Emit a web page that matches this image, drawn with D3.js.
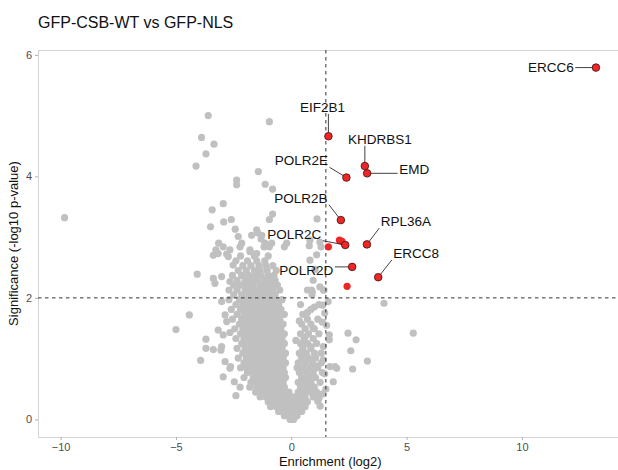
<!DOCTYPE html>
<html>
<head>
<meta charset="utf-8">
<script src="https://cdnjs.cloudflare.com/ajax/libs/d3/7.8.5/d3.min.js"></script>
<style>
    body { margin: 0; background: #fff; }
    text { font-family: "Liberation Sans", Arial, sans-serif; }
</style>
</head>
<body>
<script>

    // labelled hits
    var hitGenes = ["ERCC6", "EIF2B1", "KHDRBS1", "EMD", "POLR2E", "POLR2B", "POLR2C", "RPL36A", "POLR2D", "ERCC8"];
    var hitX = [13.21, 1.61, 3.19, 3.29, 2.39, 2.15, 2.34, 3.28, 2.64, 3.77];
    var hitY = [5.79, 4.66, 4.17, 4.05, 3.98, 3.28, 2.87, 2.88, 2.51, 2.34];

    // significant but unlabelled
    var otherHitX = [2.09, 2.20, 1.61, 2.42];
    var otherHitY = [2.95, 2.93, 2.84, 2.19];

    // scattered background proteins [log2 enrichment, -log10 p]
    var scatterPoints = [
        [-3.60,5.00],[-3.89,4.64],[-3.35,4.53],[-3.70,4.37],[-4.13,4.17],[-0.95,4.90],[-1.43,4.08],
        [-2.37,3.94],[-2.37,3.86],[-1.13,3.87],[-0.81,3.79],[-9.83,3.32],[-2.95,3.55],[-3.43,3.45],
        [-0.81,3.38],[-0.95,3.29],[1.12,3.30],[-2.60,3.29],[-2.93,3.25],[-3.50,3.17],[-2.43,3.13],
        [-1.46,3.07],[-1.72,3.03],[-2.30,3.01],[-1.31,2.97],[-1.50,3.12],[-1.28,3.03],[-3.15,2.90],
        [-2.15,2.90],[-1.14,2.90],[-0.85,2.90],[-0.20,2.90],[0.81,2.95],[1.24,2.92],[-1.18,2.84],
        [-0.95,2.84],[-0.30,2.84],[0.78,2.86],[1.29,2.84],[-2.22,2.84],[-2.95,2.84],[-3.27,2.79],
        [-2.66,2.79],[-1.79,2.79],[-1.79,2.76],[-1.50,2.73],[-3.38,2.70],[-2.80,2.72],[-2.73,2.68],
        [-3.17,2.73],[0.81,2.62],[1.10,2.71],[1.03,2.47],[0.95,2.29],[0.88,2.13],[1.24,2.18],
        [0.91,2.10],[1.39,2.13],[1.42,2.13],[-2.52,2.54],[-4.08,2.39],[-3.38,2.32],[-3.31,2.24],
        [-3.02,2.35],[-2.66,2.27],
        [-4.42,1.72],[-5.00,1.48],[-3.70,1.32],[-3.70,1.17],[-3.93,0.97],[-3.38,1.15],[-3.05,1.14],
        [-2.95,0.70],[-2.66,0.84],[-2.40,0.39],[-2.22,0.53],[-2.47,0.62],[-3.17,1.47],[-3.02,1.94],
        [-2.80,1.61],[-2.87,1.72],[-2.66,1.43],[-2.95,1.39],[-3.02,1.20],[-2.87,0.95],[-2.63,0.87],
        [1.60,1.94],[1.36,1.88],[1.53,1.55],[1.65,1.39],[1.65,1.31],[1.39,1.20],[1.39,0.98],
        [1.68,0.87],[1.90,0.87],[1.97,0.84],[1.82,0.62],[2.46,1.42],[2.81,1.31],[2.58,1.13],
        [2.66,0.83],[3.30,0.96],[4.02,1.91],[5.29,1.42],[1.45,0.75],[1.50,0.50],[1.20,0.35],
        [1.35,1.60],[1.45,1.75],[1.15,0.30],[1.35,0.42],[1.25,0.22],
        [0.45,0.60],[0.75,0.72],[1.05,0.88],[0.45,1.05],[0.85,1.20],[0.60,1.36],[0.95,1.50],
        [0.35,1.62],[0.70,1.76],[1.00,1.85],[0.60,0.45],[0.90,0.55],[0.20,1.30],[0.25,0.85]
    ];

    // the dense core, read row by row: [-log10 p, [log2 enrichment ...]]
    var coreRows = [
        [0.00, [-0.05, 0.1]],
        [0.06, [-0.3, -0.1, 0.1, 0.25]],
        [0.13, [-0.55, -0.35, -0.15, 0.05, 0.25, 0.45]],
        [0.21, [-0.9, -0.65, -0.45, -0.25, -0.05, 0.15, 0.35, 0.6]],
        [0.29, [-1.0, -0.8, -0.6, -0.4, -0.2, 0.0, 0.2, 0.45, 0.7]],
        [0.37, [-1.35, -1.1, -0.9, -0.7, -0.5, -0.3, -0.1, 0.1, 0.35, 0.6, 0.95]],
        [0.45, [-1.55, -1.3, -1.1, -0.9, -0.7, -0.5, -0.3, -0.1, 0.3, 0.55, 0.85, 1.1]],
        [0.53, [-1.8, -1.5, -1.3, -1.1, -0.9, -0.7, -0.5, -0.3, 0.4, 0.7, 1.0]],
        [0.61, [-1.75, -1.55, -1.35, -1.15, -0.95, -0.75, -0.55, -0.35, 0.3, 0.6, 0.85, 1.25]],
        [0.69, [-2.05, -1.65, -1.45, -1.25, -1.05, -0.85, -0.65, -0.45, -0.25, 0.45, 0.75, 1.05]],
        [0.77, [-1.9, -1.7, -1.5, -1.3, -1.1, -0.9, -0.7, -0.5, -0.3, 0.35, 0.65, 0.95, 1.35]],
        [0.85, [-2.2, -1.95, -1.75, -1.55, -1.35, -1.15, -0.95, -0.75, -0.55, -0.35, 0.5, 0.8, 1.15]],
        [0.93, [-2.05, -1.85, -1.65, -1.45, -1.25, -1.05, -0.85, -0.65, -0.45, -0.25, 0.3, 0.6, 0.9, 1.3]],
        [1.01, [-2.3, -1.95, -1.75, -1.55, -1.35, -1.15, -0.95, -0.75, -0.55, -0.35, 0.45, 0.75, 1.05]],
        [1.09, [-2.1, -1.85, -1.65, -1.45, -1.25, -1.05, -0.85, -0.65, -0.45, -0.25, 0.35, 0.65, 1.0, 1.3]],
        [1.17, [-2.35, -2.0, -1.8, -1.6, -1.4, -1.2, -1.0, -0.8, -0.6, -0.4, 0.5, 0.85]],
        [1.25, [-2.15, -1.9, -1.7, -1.5, -1.3, -1.1, -0.9, -0.7, -0.5, -0.3, 0.4, 0.7, 1.1]],
        [1.33, [-2.4, -2.05, -1.8, -1.6, -1.4, -1.2, -1.0, -0.8, -0.6, -0.4, 0.55, 0.95]],
        [1.41, [-2.2, -1.95, -1.75, -1.55, -1.35, -1.15, -0.95, -0.75, -0.55, -0.3, 0.4, 0.75, 1.2]],
        [1.49, [-2.45, -2.1, -1.85, -1.65, -1.45, -1.25, -1.05, -0.85, -0.65, -0.45, 0.6, 1.0]],
        [1.57, [-2.25, -2.0, -1.8, -1.6, -1.4, -1.2, -1.0, -0.8, -0.6, -0.35, 0.45, 0.85]],
        [1.65, [-2.55, -2.15, -1.9, -1.7, -1.5, -1.3, -1.1, -0.9, -0.7, -0.5, 0.7, 1.15]],
        [1.73, [-2.35, -2.05, -1.8, -1.6, -1.4, -1.2, -1.0, -0.8, -0.6, -0.3, 0.5]],
        [1.81, [-2.6, -2.2, -1.95, -1.7, -1.5, -1.3, -1.1, -0.9, -0.7, -0.45, 0.85]],
        [1.89, [-2.4, -2.1, -1.85, -1.6, -1.4, -1.2, -1.0, -0.8, -0.55, 0.4, 1.2]],
        [1.97, [-2.7, -2.25, -1.95, -1.75, -1.5, -1.3, -1.1, -0.9, -0.65, -0.4]],
        [2.05, [-2.5, -2.15, -1.85, -1.6, -1.4, -1.15, -0.9, -0.7, 0.9]],
        [2.13, [-2.7, -2.35, -2.0, -1.75, -1.5, -1.3, -1.05, -0.8, -0.5, 0.7]],
        [2.21, [-2.5, -2.2, -1.9, -1.65, -1.35, -1.1, -0.85, -0.6]],
        [2.29, [-2.35, -2.0, -1.75, -1.5, -1.2, -0.95, -0.7]],
        [2.37, [-2.55, -2.15, -1.85, -1.55, -1.3, -1.0, -0.75]],
        [2.45, [-2.3, -1.95, -1.6, -1.35, -1.05, -0.65]],
        [2.53, [-2.1, -1.75, -1.4, -1.1, -0.8]],
        [2.61, [-2.4, -1.9, -1.5, -1.15]],
        [2.69, [-2.2, -1.6, -1.0]]
    ];

    var xTicks = [-10, -5, 0, 5, 10];
    var yTicks = [0, 2, 4, 6];
    var fcCut = 1.5, pCut = 2;

    // label placement relative to its point, in px (text centre)
    var labelOffsets = {
        ERCC6: [-45, 0], EIF2B1: [-6, -29], KHDRBS1: [15, -27], EMD: [47, -4],
        POLR2E: [-45, -17], POLR2B: [-40, -22], POLR2C: [-51, -11], RPL36A: [39, -23],
        POLR2D: [-46, 3], ERCC8: [38, -24]
    };

    var greyData = [];
    scatterPoints.forEach(function(p) { greyData.push({x: p[0], y: p[1]}); });
    coreRows.forEach(function(r) {
        r[1].forEach(function(x) { greyData.push({x: x, y: r[0]}); });
    });
    var hits = hitGenes.map(function(g, i) { return {gene: g, x: hitX[i], y: hitY[i]}; });
    var otherHits = otherHitX.map(function(x, i) { return {x: x, y: otherHitY[i]}; });

    var all = greyData.concat(hits, otherHits);

    var width = 618, height = 470;
    var panel = {left: 38, top: 50, bottom: 437};

    var xExt = d3.extent(all, function(d) { return d.x; });
    var yExt = d3.extent(all, function(d) { return d.y; });
    var xPad = (xExt[1] - xExt[0]) * 0.05, yPad = (yExt[1] - yExt[0]) * 0.05;

    var xScale = d3.scaleLinear()
        .domain([xExt[0] - xPad, xExt[1] + xPad])
        .range([panel.left, 622.5]);
    var yScale = d3.scaleLinear()
        .domain([yExt[0] - yPad, yExt[1] + yPad])
        .range([panel.bottom, panel.top]);

    var svg = d3.select("body").append("svg")
        .attr("width", width).attr("height", height);

    svg.append("text")
        .attr("x", 38).attr("y", 28)
        .attr("font-size", "16px").attr("fill", "#111")
        .text("GFP-CSB-WT vs GFP-NLS");

    // panel top border
    svg.append("line")
        .attr("x1", panel.left).attr("x2", width)
        .attr("y1", panel.top + 0.5).attr("y2", panel.top + 0.5)
        .attr("stroke", "#d4d4d4").attr("stroke-width", 1);

    var xAxis = d3.axisBottom(xScale).tickValues(xTicks).tickSize(3).tickSizeOuter(0).tickPadding(3)
        .tickFormat(d3.format("d"));
    var yAxis = d3.axisLeft(yScale).tickValues(yTicks).tickSize(3).tickSizeOuter(0).tickPadding(3)
        .tickFormat(d3.format("d"));

    var gx = svg.append("g")
        .attr("transform", "translate(0," + panel.bottom + ")")
        .call(xAxis);
    var gy = svg.append("g")
        .attr("transform", "translate(" + panel.left + ",0)")
        .call(yAxis);

    [gx, gy].forEach(function(g) {
        g.select(".domain").attr("stroke", "#d4d4d4");
        g.selectAll(".tick line").attr("stroke", "#b0b0b0");
        g.selectAll(".tick text").attr("fill", "#4d4d4d").attr("font-size", "11px")
            .attr("font-family", "Liberation Sans, Arial, sans-serif");
    });
    gx.select(".domain").attr("d", "M" + panel.left + ",0.5H" + width);
    gy.select(".domain").attr("d", "M0.5," + panel.top + "V" + panel.bottom);

    svg.append("text")
        .attr("x", (panel.left + 622.5) / 2).attr("y", 466)
        .attr("text-anchor", "middle").attr("font-size", "13px").attr("fill", "#111")
        .text("Enrichment (log2)");

    svg.append("text")
        .attr("transform", "translate(18," + ((panel.top + panel.bottom) / 2) + ") rotate(-90)")
        .attr("text-anchor", "middle").attr("font-size", "13px").attr("fill", "#111")
        .text("Significance (-log10 p-value)");

    // background proteins
    svg.append("g").selectAll("circle")
        .data(greyData)
        .enter().append("circle")
        .attr("cx", function(d) { return xScale(d.x); })
        .attr("cy", function(d) { return yScale(d.y); })
        .attr("r", 3.6)
        .attr("fill", "#c0c0c0");

    // thresholds
    svg.append("line")
        .attr("x1", xScale(fcCut)).attr("x2", xScale(fcCut))
        .attr("y1", panel.top).attr("y2", panel.bottom)
        .attr("stroke", "#333").attr("stroke-width", 1).attr("stroke-dasharray", "3.5,3.5");
    svg.append("line")
        .attr("x1", panel.left).attr("x2", width)
        .attr("y1", yScale(pCut)).attr("y2", yScale(pCut))
        .attr("stroke", "#333").attr("stroke-width", 1).attr("stroke-dasharray", "3.5,3.5");

    svg.append("g").selectAll("circle")
        .data(otherHits)
        .enter().append("circle")
        .attr("cx", function(d) { return xScale(d.x); })
        .attr("cy", function(d) { return yScale(d.y); })
        .attr("r", 3.6)
        .attr("fill", "#f02626");

    // labels + segments
    var lab = svg.append("g");
    hits.forEach(function(d) {
        var px = xScale(d.x), py = yScale(d.y);
        var off = labelOffsets[d.gene];
        var t = lab.append("text")
            .attr("x", px + off[0]).attr("y", py + off[1])
            .attr("dy", "0.35em")
            .attr("text-anchor", "middle")
            .attr("font-size", "13.5px").attr("fill", "#111")
            .text(d.gene);
        var b = t.node().getBBox();
        var pad = 1.5;
        var bx0 = b.x - pad, bx1 = b.x + b.width + pad, by0 = b.y + 2, by1 = b.y + b.height - 1;
        var cx = Math.max(bx0, Math.min(px, bx1)), cy = Math.max(by0, Math.min(py, by1));
        var dx = px - cx, dy = py - cy, len = Math.sqrt(dx * dx + dy * dy);
        if (len > 5) {
            lab.append("line")
                .attr("x1", cx).attr("y1", cy)
                .attr("x2", px - dx / len * 3).attr("y2", py - dy / len * 3)
                .attr("stroke", "#111").attr("stroke-width", 0.8);
        }
    });

    svg.append("g").selectAll("circle")
        .data(hits)
        .enter().append("circle")
        .attr("cx", function(d) { return xScale(d.x); })
        .attr("cy", function(d) { return yScale(d.y); })
        .attr("r", 3.8)
        .attr("fill", "#f02626")
        .attr("stroke", "#3a1010").attr("stroke-width", 0.8);

</script>
</body>
</html>
